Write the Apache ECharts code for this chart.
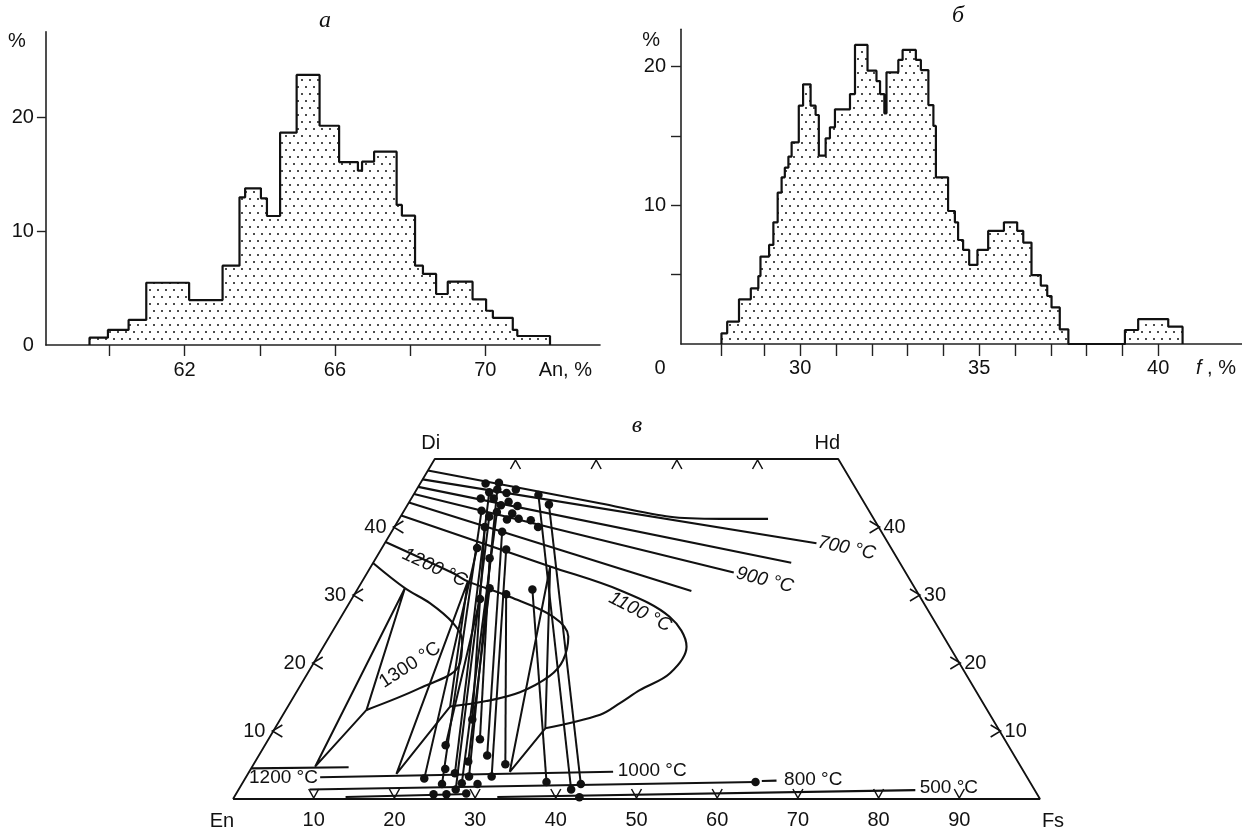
<!DOCTYPE html>
<html>
<head>
<meta charset="utf-8">
<script src="https://cdn.jsdelivr.net/npm/echarts@6/dist/echarts.min.js"></script>
<style>
html, body { margin: 0; padding: 0; background: #fff; }
#main { width: 1242px; height: 829px; }
</style>
</head>
<body>
<div id="main"></div>
<script>
// ---- панель а: An, % (границы интервалов и доли, %)
var anEdges = [59.47, 59.96, 60.51, 60.98, 62.12, 63.01, 63.46, 63.61, 64.03, 64.19, 64.54, 64.98, 65.59,
  66.11, 66.61, 66.72, 67.04, 67.64, 67.78, 68.13, 68.34, 68.69, 69.0, 69.66, 70.02, 70.20, 70.73, 70.85, 71.72];
var anPct = [0.64, 1.32, 2.20, 5.47, 3.95, 6.97, 12.97, 13.76, 12.88, 11.33, 18.65, 23.72, 19.26,
  16.07, 15.31, 16.10, 16.98, 12.30, 11.36, 6.97, 6.24, 4.48, 5.56, 4.01, 3.01, 2.39, 1.32, 0.79];
var anTicks = [60, 62, 64, 66, 68, 70];
var anLabels = [62, 66, 70];
var anPctLabels = [0, 10, 20];

// ---- панель б: f, %
var fEdges = [27.80, 27.96, 28.29, 28.62, 28.83, 28.89, 29.13, 29.25, 29.37, 29.48, 29.57, 29.67, 29.76,
  29.96, 30.08, 30.29, 30.43, 30.52, 30.71, 30.83, 30.97, 31.39, 31.53, 31.88, 32.13, 32.23, 32.35, 32.41,
  32.74, 32.86, 33.23, 33.37, 33.58, 33.72, 33.79, 34.13, 34.32, 34.41, 34.55, 34.72, 34.95, 35.25, 35.69,
  36.06, 36.23, 36.46, 36.72, 36.90, 37.02, 37.25, 37.49, 39.07, 39.44, 40.28, 40.68];
var fPct = [0.77, 1.61, 3.22, 4.01, 4.90, 6.30, 7.14, 8.77, 10.91, 12.02, 12.71, 13.51, 14.54,
  17.18, 18.72, 17.18, 16.51, 13.58, 14.83, 15.62, 16.92, 18.02, 21.56, 19.71, 18.96, 18.02, 16.63, 19.59,
  20.48, 21.20, 20.48, 19.75, 17.23, 15.72, 12.02, 9.59, 8.77, 7.50, 6.78, 5.70, 6.78, 8.15, 8.77,
  8.15, 7.31, 4.97, 4.21, 3.46, 2.64, 1.06, 0, 1.01, 1.80, 1.25];
var fTicks = [27.8, 29, 30, 31, 32, 33, 34, 35, 36, 37, 38, 39, 40];
var fLabels = [30, 35, 40];
var fPctTicks = [5, 10, 15, 20];
var fPctLabels = [10, 20];

// ---- панель в: составы [Fs, Wo]
var corners = [[0, 0], [100, 0], [50, 50], [0, 50]];
var cornerNames = ['En', 'Fs', 'Hd', 'Di'];
var baseTicks = [10, 20, 30, 40, 50, 60, 70, 80, 90];
var topTicks = [10, 20, 30, 40];
var woTicks = [10, 20, 30, 40];

// изотермы авгита (700-1000 °C)
var augIso = [
  [[0, 48.3], [23.7, 43.5], [33.4, 41.5], [39.8, 41.2], [45.7, 41.2]],
  [[0, 47.0], [53.5, 37.6]],
  [[0, 45.9], [51.8, 34.75]],
  [[0, 44.85], [45.4, 33.3]],
  [[0, 43.6], [41.5, 30.6]]
];
// петли пижонита 1100, 1200, 1300 °C
var loopIso = [
  [[0, 41.7], [22.2, 34.2], [32.6, 30.7], [40.7, 26.8], [45.0, 22.4], [44.9, 18.5], [42.4, 16.0], [40.9, 14.1], [39.3, 12.4], [33.5, 10.4]],
  [[0, 37.8], [10.7, 33.2], [13.1, 32.0], [19.5, 29.7], [26.3, 26.8], [29.6, 23.9], [30.7, 20.4], [30.2, 18.1], [27.7, 15.7], [24.2, 14.4], [20.1, 13.6]],
  [[0, 34.7], [5.8, 31.0], [10.0, 28.8], [14.3, 25.9], [16.7, 23.4], [18.2, 19.5], [15.0, 16.3], [10.0, 13.1]]
];
// трёхфазовые треугольники
var triangles = [
  [[5.8, 31.0], [10.0, 13.1], [7.8, 4.75], [5.8, 31.0]],
  [[13.1, 32.0], [20.1, 13.6], [18.4, 3.7], [13.1, 32.0]],
  [[22.2, 34.2], [33.5, 10.4], [32.3, 4.0], [22.2, 34.2]]
];
// изотермы ортопироксена
var opxIso = [
  [[0, 4.5], [12.0, 4.66]],
  [[9.2, 3.2], [45.1, 4.0]],
  [[8.8, 1.4], [63.5, 2.5]],
  [[64.2, 2.65], [66.0, 2.7]],
  [[13.8, 0.3], [29.0, 0.74]],
  [[32.6, 0.3], [83.9, 1.3]]
];
// коноды
var tieLines = [
  [[11.8, 36.9], [22.2, 3.0]],
  [[15.9, 29.4], [22.4, 7.9]],
  [[11.2, 40.0], [23.8, 11.7]],
  [[9.6, 42.4], [24.8, 2.2]],
  [[11.0, 41.5], [26.9, 1.4]],
  [[14.1, 35.4], [26.2, 8.8]],
  [[16.3, 31.0], [26.4, 5.5]],
  [[11.6, 42.2], [27.2, 2.3]],
  [[13.7, 39.3], [28.3, 6.4]],
  [[15.5, 36.7], [30.4, 3.3]],
  [[18.8, 30.1], [31.2, 5.1]],
  [[21.7, 30.8], [37.6, 2.5]],
  [[15.5, 44.7], [41.2, 1.4]],
  [[17.5, 43.3], [42.0, 2.2]],
  [[9.2, 45.1], [25.6, 3.8]],
  [[10.0, 45.5], [27.6, 3.3]]
];
var cpxDots = [[8.1, 46.4], [9.7, 46.5], [9.2, 45.1], [10.0, 45.5], [11.4, 45.0], [12.3, 45.5], [15.5, 44.7],
  [8.6, 44.2], [10.2, 44.2], [11.6, 43.2], [12.3, 43.7], [13.7, 43.1], [17.5, 43.3], [9.6, 42.4], [11.0, 41.5],
  [11.6, 42.2], [13.6, 42.0], [13.4, 41.1], [14.8, 41.2], [16.4, 41.0], [17.8, 40.0], [11.2, 40.0], [13.7, 39.3],
  [11.8, 36.9], [15.5, 36.7], [14.1, 35.4], [16.3, 31.0], [18.8, 30.1], [21.7, 30.8], [15.9, 29.4], [23.8, 11.7]];
var opxDots = [[22.4, 7.9], [26.2, 8.8], [26.4, 5.5], [28.3, 6.4], [31.2, 5.1], [24.1, 4.4], [25.6, 3.8],
  [22.2, 3.0], [27.6, 3.3], [30.4, 3.3], [24.8, 2.2], [27.2, 2.3], [29.2, 2.2], [26.9, 1.4], [24.5, 0.7],
  [26.1, 0.7], [28.5, 0.8], [37.6, 2.5], [41.2, 1.4], [42.0, 2.2], [42.8, 0.25], [63.5, 2.5]];
var isoLabelText = ['1200 °C', '1100 °C', '1300 °C', '900 °C', '700 °C', '1200 °C', '1000 °C', '800 °C', '500 °C'];
var isoLabelAt = [[8.0, 34.0], [36.7, 27.5], [12.1, 19.7], [49.8, 32.2], [57.6, 36.9], [4.7, 3.1], [49.9, 4.1], [70.5, 2.8], [87.9, 1.6]];

var SANS = "'Liberation Sans', Arial, sans-serif";
var INK = '#111';

var chart = echarts.init(document.getElementById('main'));

function tern(p) { return [p[0] + p[1] / 2, p[1]]; }
function steps(edges, h) {
  var d = [[edges[0], 0]];
  for (var i = 0; i < h.length; i++) d.push([edges[i], h[i]]);
  d.push([edges[edges.length - 1], 0]);
  return d;
}

// точечная заливка гистограмм
var dotTile = document.createElement('canvas');
dotTile.width = 8; dotTile.height = 14;
var g = dotTile.getContext('2d');
g.fillStyle = '#111';
[[2, 3], [6, 10]].forEach(function (p) { g.beginPath(); g.arc(p[0], p[1], 1.0, 0, Math.PI * 2); g.fill(); });

var axisLine = { lineStyle: { color: '#222', width: 1.6 } };
var tickStyle = { color: '#222', width: 1.4 };
var labelFont = { fontFamily: SANS, fontSize: 20, color: '#111' };

function chevron(params, api) {
  var p = api.coord([api.value(0), api.value(1)]);
  var k = api.value(2), d;
  if (k === 0) d = [[p[0] - 5, p[1] - 10], [p[0], p[1] - 1], [p[0] + 5, p[1] - 10]];
  else if (k === 1) d = [[p[0] - 5, p[1] + 10], [p[0], p[1] + 1], [p[0] + 5, p[1] + 10]];
  else if (k === 2) d = [[p[0] + 9, p[1] - 6], [p[0] - 1, p[1]], [p[0] + 9, p[1] + 6]];
  else d = [[p[0] - 9, p[1] - 6], [p[0] + 1, p[1]], [p[0] - 9, p[1] + 6]];
  return { type: 'polyline', shape: { points: d }, style: { stroke: '#111', fill: 'none', lineWidth: 1.5 } };
}

var chevData = [];
baseTicks.forEach(function (f) { chevData.push(tern([f, 0]).concat(0)); });
topTicks.forEach(function (f) { chevData.push(tern([f, 50]).concat(1)); });
woTicks.forEach(function (w) { chevData.push(tern([0, w]).concat(2)); });
woTicks.forEach(function (w) { chevData.push(tern([100 - w, w]).concat(3)); });

var textData = [];
var cornerOffsets = [[-11, 22], [13, 22], [-11, -16], [-4, -16]];
corners.forEach(function (c, i) {
  textData.push({ value: tern(c), name: cornerNames[i], label: { offset: cornerOffsets[i] } });
});
baseTicks.forEach(function (f) {
  textData.push({ value: tern([f, 0]), name: String(f), label: { offset: [0, 21] } });
});
woTicks.forEach(function (w) {
  textData.push({ value: tern([0, w]), name: String(w), label: { offset: [-19, 0] } });
  textData.push({ value: tern([100 - w, w]), name: String(w), label: { offset: [16, 0] } });
});
var isoAngles = [-25, -27, 33, -14, -12, 0, 0, 0, 0];
isoLabelText.forEach(function (t, i) {
  textData.push({ value: tern(isoLabelAt[i]), name: t,
    label: { rotate: isoAngles[i], fontStyle: i < 5 && i !== 2 ? 'italic' : 'normal', fontSize: 19 } });
});

var tSeries = [];
function tLine(pts, width, smooth) {
  tSeries.push({ type: 'line', xAxisIndex: 2, yAxisIndex: 2, data: pts.map(tern), symbol: 'none',
    smooth: smooth || false, clip: false, silent: true,
    lineStyle: { color: INK, width: width } });
}
tLine(corners.concat([corners[0]]), 1.8);
augIso.forEach(function (c) { tLine(c, 2.1, 0.3); });
loopIso.forEach(function (c) { tLine(c, 2.1, 0.35); });
triangles.forEach(function (c) { tLine(c, 2); });
opxIso.forEach(function (c) { tLine(c, 2.1); });
tieLines.forEach(function (c) { tLine(c, 2); });

var option = {
  animation: false,
  grid: [
    { left: 45.9, top: 31.7, width: 554.1, height: 313.3 },
    { left: 681, top: 29.3, width: 561, height: 314.7 },
    { left: 233, top: 459, width: 807, height: 340 }
  ],
  xAxis: [
    { gridIndex: 0, type: 'value', min: 58.31, max: 73.05, splitLine: { show: false }, axisLine: axisLine,
      axisTick: { customValues: anTicks, length: 11, lineStyle: tickStyle },
      axisLabel: Object.assign({ customValues: anLabels, margin: 15 }, labelFont),
      name: 'An, %', nameLocation: 'end', nameGap: -8,
      nameTextStyle: Object.assign({ align: 'right', verticalAlign: 'top', padding: [15, 0, 0, 0] }, labelFont) },
    { gridIndex: 1, type: 'value', min: 26.67, max: 42.34, splitLine: { show: false }, axisLine: axisLine,
      axisTick: { customValues: fTicks, length: 12, lineStyle: tickStyle },
      axisLabel: Object.assign({ customValues: fLabels, margin: 14 }, labelFont),
      name: '{i|f} , %', nameLocation: 'end', nameGap: -6,
      nameTextStyle: Object.assign({ align: 'right', verticalAlign: 'top', padding: [14, 0, 0, 0],
        rich: { i: { fontStyle: 'italic', fontFamily: SANS, fontSize: 20, color: '#111' } } }, labelFont) },
    { gridIndex: 2, type: 'value', min: 0, max: 100, show: false }
  ],
  yAxis: [
    { gridIndex: 0, type: 'value', min: 0, max: 27.52, splitLine: { show: false }, axisLine: axisLine,
      axisTick: { customValues: [10, 20], length: 9, lineStyle: tickStyle },
      axisLabel: Object.assign({ customValues: anPctLabels, margin: 12 }, labelFont),
      name: '%', nameLocation: 'end', nameGap: -10,
      nameTextStyle: Object.assign({ align: 'right', verticalAlign: 'middle', padding: [0, 20, 0, 0] }, labelFont) },
    { gridIndex: 1, type: 'value', min: 0, max: 22.69, splitLine: { show: false }, axisLine: axisLine,
      axisTick: { customValues: fPctTicks, length: 10, lineStyle: tickStyle },
      axisLabel: Object.assign({ customValues: fPctLabels, margin: 15 }, labelFont),
      name: '%', nameLocation: 'end', nameGap: -11,
      nameTextStyle: Object.assign({ align: 'right', verticalAlign: 'middle', padding: [0, 21, 0, 0] }, labelFont) },
    { gridIndex: 2, type: 'value', min: 0, max: 50, show: false }
  ],
  graphic: [
    { type: 'text', x: 325, y: 21, style: { text: 'а', font: 'italic 24px "Liberation Serif", serif', fill: '#111', align: 'center', verticalAlign: 'middle' } },
    { type: 'text', x: 958, y: 16, style: { text: 'б', font: 'italic 24px "Liberation Serif", serif', fill: '#111', align: 'center', verticalAlign: 'middle' } },
    { type: 'text', x: 637, y: 426, style: { text: 'в', font: 'italic 24px "Liberation Serif", serif', fill: '#111', align: 'center', verticalAlign: 'middle' } },
    { type: 'text', x: 660, y: 368, style: { text: '0', font: "20px 'Liberation Sans', Arial, sans-serif", fill: '#111', align: 'center', verticalAlign: 'middle' } }
  ],
  series: [
    { type: 'line', xAxisIndex: 0, yAxisIndex: 0, data: steps(anEdges, anPct), step: 'end', symbol: 'none',
      lineStyle: { color: INK, width: 2.2 }, areaStyle: { color: { image: dotTile, repeat: 'repeat' }, opacity: 1 } },
    { type: 'line', xAxisIndex: 1, yAxisIndex: 1, data: steps(fEdges, fPct), step: 'end', symbol: 'none',
      lineStyle: { color: INK, width: 2.2 }, areaStyle: { color: { image: dotTile, repeat: 'repeat' }, opacity: 1 } }
  ].concat(tSeries).concat([
    { type: 'custom', xAxisIndex: 2, yAxisIndex: 2, data: chevData, encode: { x: 0, y: 1 }, renderItem: chevron, silent: true },
    { type: 'scatter', xAxisIndex: 2, yAxisIndex: 2, data: cpxDots.concat(opxDots).map(tern), symbolSize: 8.5,
      itemStyle: { color: INK, opacity: 1 }, z: 5, clip: false, silent: true },
    { type: 'scatter', xAxisIndex: 2, yAxisIndex: 2, data: textData, symbolSize: 0, clip: false, silent: true, z: 6,
      itemStyle: { opacity: 1 },
      label: { show: true, position: 'inside', formatter: '{b}', fontFamily: SANS, fontSize: 20, color: '#111',
        textBorderWidth: 0 } }
  ])
};
chart.setOption(option);
</script>
</body>
</html>
